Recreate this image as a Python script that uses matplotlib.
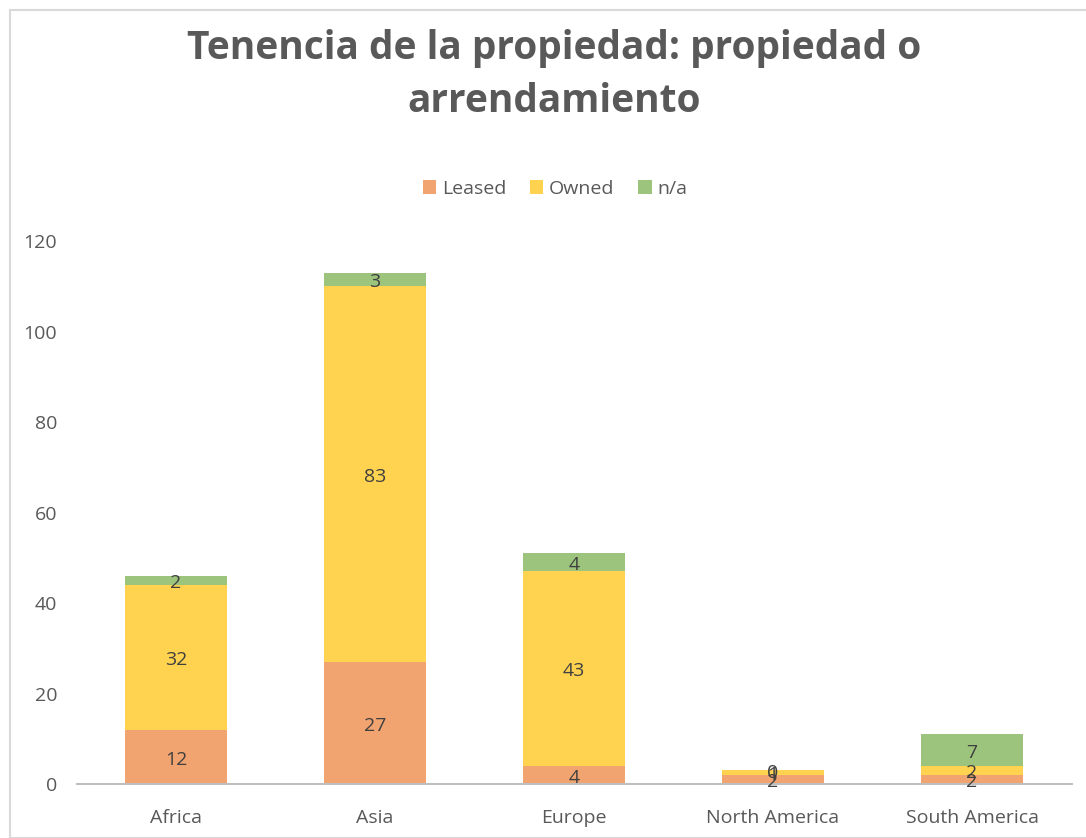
import matplotlib
matplotlib.use("Agg")
import matplotlib.pyplot as plt
from matplotlib.patches import Rectangle
import numpy as np

categories = ["Africa", "Asia", "Europe", "North America", "South America"]
leased = [12, 27, 4, 2, 2]
owned = [32, 83, 43, 1, 2]
na = [2, 3, 4, 0, 7]
series_names = ["Leased", "Owned", "n/a"]
colors = ["#F1A46F", "#FFD34F", "#9CC47D"]
yticks = [0, 20, 40, 60, 80, 100, 120]

plt.rcParams["font.family"] = ["Open Sans", "DejaVu Sans"]
txt = "#595959"

fig = plt.figure(figsize=(10.86, 8.38), dpi=100)
fig.patches.append(Rectangle((10/1086, 0), 1.0, 1 - 10/838, transform=fig.transFigure,
                             fill=False, edgecolor="#D9D9D9", linewidth=1.5))
ax = fig.add_axes([76.5/1086, 1 - 784/838, 995/1086, 543/838])

x = np.arange(len(categories))
w = 0.51
bottom = np.zeros(len(categories))
data = [leased, owned, na]
handles = []
for name, vals, c in zip(series_names, data, colors):
    vals = np.array(vals, dtype=float)
    b = ax.bar(x, vals, w, bottom=bottom, color=c, label=name, zorder=2)
    handles.append(b)
    for xi, v, bt in zip(x, vals, bottom):
        ax.text(xi, bt + v / 2 - 0.6, f"{int(v)}", ha="center", va="center",
                fontsize=14, color="#404040", zorder=3)
    bottom += vals

ax.set_xlim(-0.5, len(categories) - 0.5)
ax.set_ylim(0, 120)
ax.set_yticks(yticks)
ax.set_xticks(x)
ax.set_xticklabels(categories)
for s in ["top", "right", "left"]:
    ax.spines[s].set_visible(False)
ax.spines["bottom"].set_color("#BFBFBF")
ax.spines["bottom"].set_linewidth(1.5)
ax.tick_params(axis="both", length=0, labelsize=14, colors=txt)
ax.tick_params(axis="y", pad=14)
ax.tick_params(axis="x", pad=18)

fig.text(0.51, 1 - 75/838, "Tenencia de la propiedad: propiedad o\narrendamiento",
         ha="center", va="center", fontsize=28, fontweight="bold", color=txt,
         linespacing=1.5)

fig.legend(handles=handles, labels=series_names, loc="center",
           bbox_to_anchor=(555/1086, 1 - 189/838), ncol=3, frameon=False,
           fontsize=14, labelcolor=txt, handlelength=0.7, handleheight=0.7,
           handletextpad=0.3, columnspacing=1.2)

fig.savefig("out.png", dpi=100)
